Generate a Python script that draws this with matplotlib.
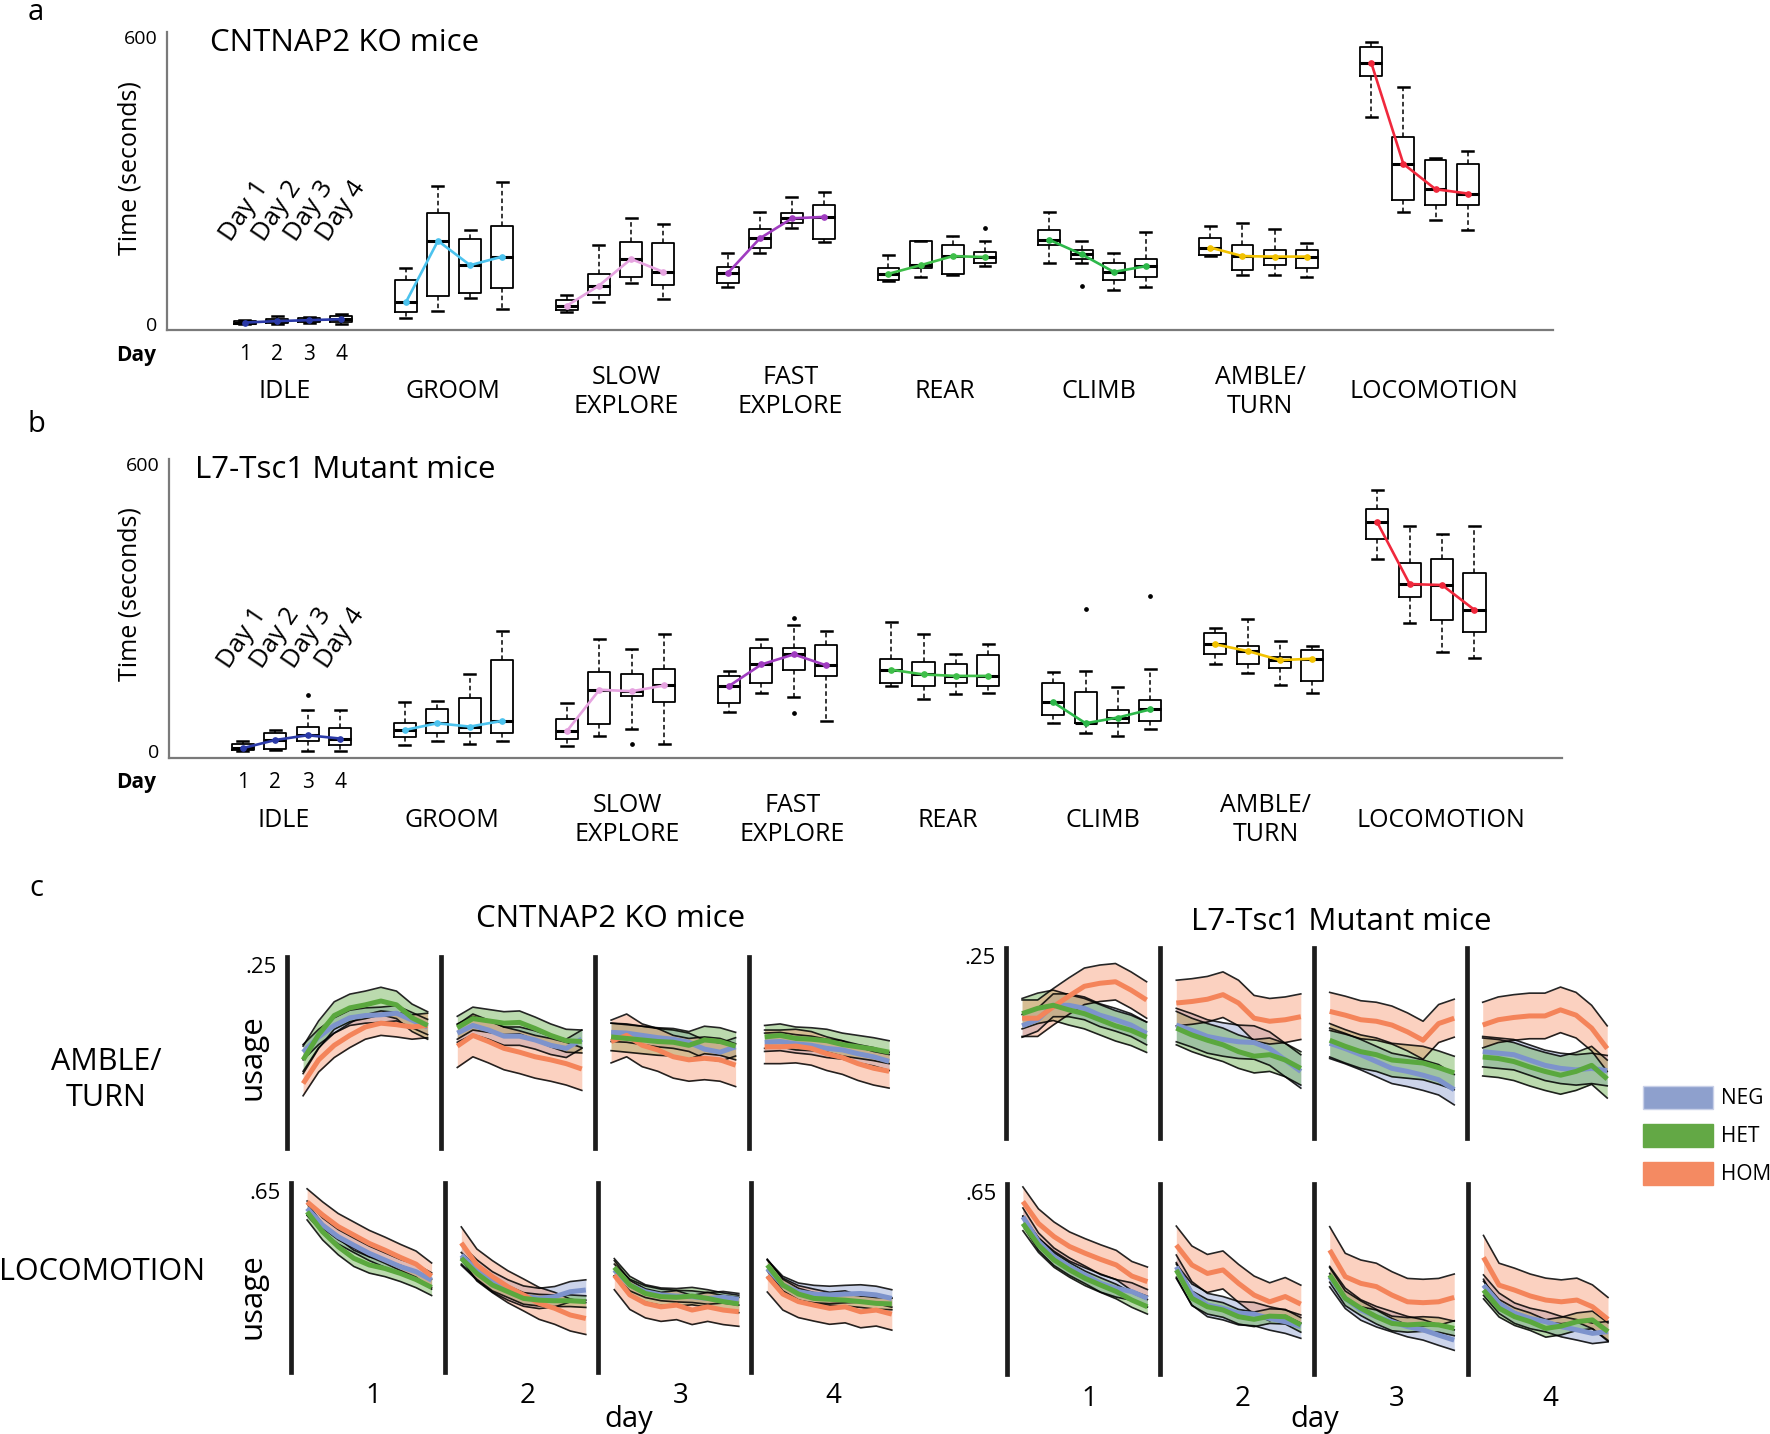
import numpy as np
import matplotlib
matplotlib.use('Agg')
import matplotlib.pyplot as plt
import matplotlib.transforms as mtransforms
from matplotlib.patches import Rectangle

plt.rcParams['font.family'] = ['Open Sans', 'DejaVu Sans']

# ------------------------------------------------------------------ DATA
BEHAVIORS = ['IDLE', 'GROOM', 'SLOW\nEXPLORE', 'FAST\nEXPLORE', 'REAR', 'CLIMB',
             'AMBLE/\nTURN', 'LOCOMOTION']
DAY_TICKS = ['1', '2', '3', '4']
DAY_NAMES = ['Day 1', 'Day 2', 'Day 3', 'Day 4']
LINE_COLORS = ['#2b3aa8', '#4cc3ee', '#e6a3e0', '#a03cc0', '#3fbf4a', '#2db84a',
               '#f2c200', '#f0283c']

# panel a : CNTNAP2 KO mice (seconds), rows = behaviours, cols = days 1-4
A_MED = [[3, 6, 8, 10], [45, 174, 123, 141], [38, 80, 136, 109], [106, 179, 221, 224],
         [105, 123, 142, 140], [176, 146, 109, 121], [160, 142, 141, 141], [547, 335, 282, 273]]
A_Q1 = [[0, 2, 4, 4], [26, 59, 64, 75], [30, 60, 98, 82], [85, 160, 212, 177],
        [92, 117, 105, 127], [165, 137, 92, 99], [144, 113, 123, 117], [518, 259, 249, 249]]
A_Q3 = [[6, 10, 12, 16], [91, 232, 177, 205], [50, 105, 171, 170], [120, 198, 233, 248],
        [117, 174, 165, 151], [197, 155, 127, 137], [179, 165, 155, 155], [580, 391, 343, 335]]
A_LO = [[0, 0, 2, 1], [13, 28, 54, 31], [25, 45, 86, 52], [77, 148, 200, 172],
        [89, 99, 103, 122], [127, 127, 71, 78], [143, 103, 103, 99], [434, 235, 218, 197]]
A_HI = [[8, 16, 15, 20], [117, 289, 197, 298], [60, 165, 221, 209], [148, 234, 266, 277],
        [144, 174, 184, 174], [235, 174, 148, 193], [204, 211, 198, 170], [590, 495, 347, 363]]
A_OUT = [(4, 3, 200), (5, 1, 80)]

# panel b : L7-Tsc1 mutant mice
B_MED = [[6, 23, 33, 26], [44, 58, 51, 63], [42, 128, 125, 137], [136, 181, 202, 179],
         [170, 160, 157, 157], [102, 58, 70, 87], [223, 209, 190, 193], [478, 349, 347, 295]]
B_Q1 = [[3, 4, 21, 12], [30, 38, 38, 38], [26, 56, 116, 102], [100, 143, 170, 156],
        [143, 136, 143, 136], [75, 58, 58, 63], [202, 181, 174, 146], [443, 323, 274, 248]]
B_Q3 = [[14, 38, 51, 49], [58, 87, 110, 190], [66, 165, 162, 172], [157, 216, 216, 221],
        [193, 186, 181, 200], [142, 123, 86, 107], [246, 220, 197, 211], [506, 393, 402, 373]]
B_LO = [[0, 3, 0, 0], [12, 21, 14, 21], [10, 31, 45, 14], [82, 121, 112, 63],
        [136, 108, 119, 122], [59, 38, 31, 45], [181, 164, 139, 121], [402, 267, 206, 195]]
B_HI = [[20, 44, 86, 86], [102, 105, 162, 251], [101, 234, 214, 244], [167, 234, 263, 251],
        [270, 244, 202, 223], [165, 167, 133, 172], [258, 275, 230, 220], [546, 471, 453, 470]]
B_OUT = [(0, 2, 117), (3, 2, 278), (3, 2, 79), (5, 1, 296), (5, 3, 324), (2, 2, 14)]

# panel c : usage time courses, 9 samples across each session, days 1-4
GENOTYPES = ['NEG', 'HET', 'HOM']
CNT_AMBLE_NEG = [[0.125, 0.145, 0.160, 0.170, 0.173, 0.174, 0.176, 0.167, 0.158],
                 [0.150, 0.160, 0.154, 0.146, 0.146, 0.141, 0.134, 0.130, 0.142],
                 [0.151, 0.150, 0.147, 0.144, 0.142, 0.138, 0.129, 0.125, 0.132],
                 [0.138, 0.139, 0.136, 0.134, 0.130, 0.128, 0.123, 0.119, 0.113]]
CNT_AMBLE_HET = [[0.115, 0.148, 0.173, 0.183, 0.187, 0.192, 0.187, 0.170, 0.160],
                 [0.157, 0.169, 0.166, 0.163, 0.164, 0.156, 0.147, 0.140, 0.139],
                 [0.145, 0.143, 0.141, 0.139, 0.138, 0.134, 0.141, 0.139, 0.133],
                 [0.145, 0.147, 0.143, 0.142, 0.140, 0.135, 0.132, 0.129, 0.125]]
CNT_AMBLE_HOM = [[0.084, 0.115, 0.134, 0.147, 0.158, 0.163, 0.161, 0.158, 0.160],
                 [0.133, 0.147, 0.139, 0.130, 0.125, 0.119, 0.115, 0.110, 0.103],
                 [0.139, 0.147, 0.134, 0.128, 0.119, 0.115, 0.117, 0.115, 0.108],
                 [0.132, 0.132, 0.133, 0.130, 0.123, 0.118, 0.110, 0.104, 0.100]]
CNT_AMBLE_SEM_NEG = [0.010, 0.012, 0.012, 0.012]
CNT_AMBLE_SEM_HET = [0.018, 0.015, 0.018, 0.015]
CNT_AMBLE_SEM_HOM = [0.016, 0.028, 0.028, 0.022]

CNT_LOCO_NEG = [[0.562, 0.504, 0.464, 0.435, 0.407, 0.384, 0.361, 0.344, 0.315],
                [0.401, 0.350, 0.309, 0.281, 0.260, 0.252, 0.258, 0.275, 0.281],
                [0.350, 0.298, 0.275, 0.264, 0.260, 0.258, 0.252, 0.256, 0.249],
                [0.355, 0.298, 0.275, 0.267, 0.264, 0.267, 0.269, 0.264, 0.252]]
CNT_LOCO_HET = [[0.550, 0.481, 0.430, 0.390, 0.367, 0.355, 0.338, 0.317, 0.290],
                [0.390, 0.338, 0.298, 0.275, 0.252, 0.246, 0.244, 0.244, 0.241],
                [0.359, 0.298, 0.269, 0.258, 0.256, 0.260, 0.252, 0.241, 0.233],
                [0.367, 0.298, 0.267, 0.252, 0.249, 0.246, 0.241, 0.235, 0.233]]
CNT_LOCO_HOM = [[0.584, 0.539, 0.499, 0.470, 0.441, 0.418, 0.393, 0.370, 0.329],
                [0.443, 0.367, 0.327, 0.292, 0.264, 0.235, 0.218, 0.195, 0.183],
                [0.332, 0.264, 0.235, 0.223, 0.229, 0.212, 0.223, 0.212, 0.206],
                [0.329, 0.267, 0.241, 0.229, 0.218, 0.223, 0.206, 0.212, 0.198]]
CNT_LOCO_SEM_NEG = [0.025, 0.035, 0.020, 0.030]
CNT_LOCO_SEM_HET = [0.028, 0.020, 0.030, 0.020]
CNT_LOCO_SEM_HOM = [0.045, 0.055, 0.050, 0.055]

L7_AMBLE_NEG = [[0.148, 0.156, 0.175, 0.175, 0.171, 0.162, 0.156, 0.149, 0.138],
                [0.149, 0.142, 0.134, 0.130, 0.127, 0.126, 0.118, 0.103, 0.088],
                [0.125, 0.118, 0.110, 0.101, 0.092, 0.088, 0.083, 0.077, 0.064],
                [0.114, 0.112, 0.110, 0.103, 0.096, 0.092, 0.090, 0.092, 0.089]]
L7_AMBLE_HET = [[0.164, 0.171, 0.175, 0.169, 0.164, 0.156, 0.148, 0.142, 0.133],
                [0.145, 0.136, 0.129, 0.123, 0.114, 0.108, 0.110, 0.103, 0.092],
                [0.129, 0.121, 0.114, 0.110, 0.103, 0.101, 0.099, 0.093, 0.086],
                [0.107, 0.105, 0.101, 0.094, 0.088, 0.083, 0.088, 0.096, 0.078]]
L7_AMBLE_HOM = [[0.158, 0.158, 0.173, 0.187, 0.200, 0.204, 0.206, 0.195, 0.182],
                [0.178, 0.180, 0.183, 0.189, 0.178, 0.158, 0.154, 0.156, 0.160],
                [0.167, 0.162, 0.156, 0.154, 0.149, 0.140, 0.129, 0.151, 0.158],
                [0.149, 0.156, 0.159, 0.161, 0.161, 0.169, 0.162, 0.145, 0.118]]
L7_AMBLE_SEM_NEG = [0.015, 0.022, 0.020, 0.020]
L7_AMBLE_SEM_HET = [0.020, 0.022, 0.022, 0.025]
L7_AMBLE_SEM_HOM = [0.024, 0.030, 0.025, 0.030]

L7_LOCO_NEG = [[0.538, 0.453, 0.401, 0.367, 0.339, 0.310, 0.293, 0.282, 0.259],
               [0.367, 0.276, 0.236, 0.225, 0.208, 0.205, 0.190, 0.179, 0.162],
               [0.333, 0.259, 0.219, 0.196, 0.179, 0.162, 0.151, 0.133, 0.116],
               [0.304, 0.242, 0.208, 0.190, 0.179, 0.162, 0.151, 0.139, 0.145]]
L7_LOCO_HET = [[0.515, 0.441, 0.390, 0.356, 0.327, 0.304, 0.282, 0.253, 0.230],
               [0.356, 0.259, 0.230, 0.219, 0.196, 0.187, 0.198, 0.196, 0.168],
               [0.339, 0.259, 0.225, 0.196, 0.173, 0.168, 0.171, 0.168, 0.156],
               [0.287, 0.225, 0.196, 0.179, 0.156, 0.164, 0.179, 0.185, 0.145]]
L7_LOCO_HOM = [[0.590, 0.515, 0.470, 0.436, 0.413, 0.392, 0.373, 0.335, 0.316],
               [0.441, 0.373, 0.344, 0.356, 0.310, 0.270, 0.247, 0.265, 0.239],
               [0.424, 0.333, 0.310, 0.299, 0.270, 0.247, 0.244, 0.247, 0.262],
               [0.399, 0.304, 0.287, 0.267, 0.253, 0.247, 0.253, 0.230, 0.187]]
L7_LOCO_SEM_NEG = [0.030, 0.040, 0.035, 0.035]
L7_LOCO_SEM_HET = [0.025, 0.025, 0.025, 0.030]
L7_LOCO_SEM_HOM = [0.050, 0.065, 0.080, 0.075]

# ------------------------------------------------------------------ STYLE / LAYOUT
W, H = 1770, 1434
fig = plt.figure(figsize=(W / 100, H / 100), dpi=100)

MEAN_COLORS = {'NEG': '#7d93cc', 'HET': '#5aa83e', 'HOM': '#f4845a'}
FILL_COLORS = {'NEG': '#8ea0d2', 'HET': '#6aae4c', 'HOM': '#f79a74'}
LEGEND_COLORS = {'NEG': '#8ea0cd', 'HET': '#63a845', 'HOM': '#f48a62'}


def fx(x):
    return x / W


def fy(y):
    return 1 - y / H


def rect(l, t, r, b):
    return [l / W, 1 - b / H, (r - l) / W, (b - t) / H]


LABEL_SHIFT = [-0.25, -0.05, 0.35, 0.45, 0.25, 0.05, 0.05, 0.45]


def box_panel(box, xlim, ylim, med, q1, q3, lo, hi, outs, title, title_xy,
              ylab_xy, day_y, cat_y):
    ax = fig.add_axes(rect(*box))
    stats, pos = [], []
    for g in range(len(BEHAVIORS)):
        for d in range(4):
            fl = [v for (gg, dd, v) in outs if gg == g and dd == d]
            stats.append(dict(med=med[g][d], q1=q1[g][d], q3=q3[g][d],
                              whislo=lo[g][d], whishi=hi[g][d], fliers=fl))
            pos.append(g * 5 + d)
    ax.bxp(stats, positions=pos, widths=0.68, capwidths=0.34, manage_ticks=False,
           boxprops=dict(color='k', lw=1.3),
           whiskerprops=dict(color='k', lw=1.1, ls=(0, (3, 2))),
           capprops=dict(color='k', lw=1.8),
           medianprops=dict(color='k', lw=2.2),
           flierprops=dict(marker='o', markersize=2.4, markerfacecolor='k',
                           markeredgecolor='k'))
    for g in range(len(BEHAVIORS)):
        xs = [g * 5 + d for d in range(4)]
        ax.plot(xs, med[g], color=LINE_COLORS[g], lw=1.9, marker='o', ms=3.8,
                zorder=6)
    ax.set_xlim(*xlim)
    ax.set_ylim(*ylim)
    for s in ['top', 'right']:
        ax.spines[s].set_visible(False)
    for s in ['left', 'bottom']:
        ax.spines[s].set_color('#7a7a7a')
        ax.spines[s].set_linewidth(1.6)
    ax.set_yticks([0, 600])
    ax.set_yticklabels(['0', '600'], fontsize=14)
    ax.set_xticks([0, 1, 2, 3])
    ax.set_xticklabels(DAY_TICKS, fontsize=15)
    ax.tick_params(axis='y', length=0, pad=7)
    ax.tick_params(axis='x', length=0, pad=10)
    for d in range(4):
        ax.text(d, 236, DAY_NAMES[d], rotation=56, ha='center', va='center',
                fontsize=18.5)
    tr = mtransforms.blended_transform_factory(ax.transData, fig.transFigure)
    for g, name in enumerate(BEHAVIORS):
        ax.text(g * 5 + 1.5 + LABEL_SHIFT[g], fy(cat_y), name, transform=tr,
                ha='center', va='center', fontsize=18, linespacing=1.25)
    fig.text(fx(title_xy[0]), fy(title_xy[1]), title, ha='left', va='center',
             fontsize=22.5)
    fig.text(fx(ylab_xy[0]), fy(ylab_xy[1]), 'Time (seconds)', rotation=90,
             ha='center', va='center', fontsize=18)
    fig.text(fx(136), fy(day_y), 'Day', ha='center', va='center', fontsize=15,
             fontweight='bold')
    return ax


# panel a
box_panel((167, 32, 1553, 330), (-2.42, 40.65), (-12.6, 611),
          A_MED, A_Q1, A_Q3, A_LO, A_HI, A_OUT, 'CNTNAP2 KO mice', (210, 43),
          (130, 168), 356, 392)
# panel b
box_panel((169, 459, 1562, 757.7), (-2.28, 40.70), (-14, 610.5),
          B_MED, B_Q1, B_Q3, B_LO, B_HI, B_OUT, 'L7-Tsc1 Mutant mice', (195, 470),
          (130, 594), 783, 820)

# panel c
TX = np.linspace(0.0, 1.0, 9)


def ts_row(lefts, top, bot, ymax, series, sems, tick_label, day_labels):
    for d, left in enumerate(lefts):
        ax = fig.add_axes(rect(left, top, left + 150, bot))
        ax.set_xlim(-0.1285, 1.0763)
        ax.set_ylim(0, ymax)
        for gt in GENOTYPES:
            m = np.array(series[gt][d])
            s = sems[gt][d]
            ax.fill_between(TX, m - s, m + s, color=FILL_COLORS[gt], alpha=0.45,
                            lw=0, zorder=1)
        for gt in GENOTYPES:
            m = np.array(series[gt][d])
            s = sems[gt][d]
            ax.plot(TX, m + s, color='k', lw=1.2, alpha=0.85, zorder=2)
            ax.plot(TX, m - s, color='k', lw=1.2, alpha=0.85, zorder=2)
        for gt in ['NEG', 'HOM', 'HET']:
            ax.plot(TX, series[gt][d], color=MEAN_COLORS[gt], lw=3.6, zorder=3,
                    solid_capstyle='butt')
        for s in ['top', 'right', 'bottom']:
            ax.spines[s].set_visible(False)
        ax.spines['left'].set_linewidth(3.4)
        ax.spines['left'].set_color('#1c1c1c')
        ax.set_xticks([])
        ax.set_yticks([])
        ax.patch.set_alpha(0)
        if d == 0:
            ax.text(-0.07, 1.0, tick_label, transform=ax.transAxes, ha='right',
                    va='top', fontsize=16)
        if day_labels:
            ax.text(0.55, -0.13, DAY_TICKS[d], transform=ax.transAxes,
                    ha='center', va='center', fontsize=20)


CNT_AMBLE = {'NEG': CNT_AMBLE_NEG, 'HET': CNT_AMBLE_HET, 'HOM': CNT_AMBLE_HOM}
CNT_AMBLE_SEM = {'NEG': CNT_AMBLE_SEM_NEG, 'HET': CNT_AMBLE_SEM_HET, 'HOM': CNT_AMBLE_SEM_HOM}
CNT_LOCO = {'NEG': CNT_LOCO_NEG, 'HET': CNT_LOCO_HET, 'HOM': CNT_LOCO_HOM}
CNT_LOCO_SEM = {'NEG': CNT_LOCO_SEM_NEG, 'HET': CNT_LOCO_SEM_HET, 'HOM': CNT_LOCO_SEM_HOM}
L7_AMBLE = {'NEG': L7_AMBLE_NEG, 'HET': L7_AMBLE_HET, 'HOM': L7_AMBLE_HOM}
L7_AMBLE_SEM = {'NEG': L7_AMBLE_SEM_NEG, 'HET': L7_AMBLE_SEM_HET, 'HOM': L7_AMBLE_SEM_HOM}
L7_LOCO = {'NEG': L7_LOCO_NEG, 'HET': L7_LOCO_HET, 'HOM': L7_LOCO_HOM}
L7_LOCO_SEM = {'NEG': L7_LOCO_SEM_NEG, 'HET': L7_LOCO_SEM_HET, 'HOM': L7_LOCO_SEM_HOM}

ts_row([287.1, 441.3, 595.1, 748.6], 956.7, 1147.7, 0.25, CNT_AMBLE, CNT_AMBLE_SEM, '.25', False)
ts_row([291.1, 445.3, 598.3, 751.3], 1182.7, 1371.7, 0.65, CNT_LOCO, CNT_LOCO_SEM, '.65', True)
ts_row([1006.1, 1160.3, 1313.7, 1466.7], 948.3, 1138.3, 0.25, L7_AMBLE, L7_AMBLE_SEM, '.25', False)
ts_row([1006.9, 1160.3, 1313.7, 1467.5], 1184, 1374, 0.65, L7_LOCO, L7_LOCO_SEM, '.65', True)

fig.text(fx(611), fy(919), 'CNTNAP2 KO mice', ha='center', va='center', fontsize=22.5)
fig.text(fx(1341), fy(922), 'L7-Tsc1 Mutant mice', ha='center', va='center', fontsize=22.5)
fig.text(fx(106), fy(1080), 'AMBLE/\nTURN', ha='center', va='center', fontsize=22,
         linespacing=1.25)
fig.text(fx(102), fy(1272), 'LOCOMOTION', ha='center', va='center', fontsize=22)
fig.text(fx(253), fy(1057), 'usage', rotation=90, ha='center', va='center', fontsize=22.5)
fig.text(fx(253), fy(1296), 'usage', rotation=90, ha='center', va='center', fontsize=22.5)
fig.text(fx(629), fy(1419), 'day', ha='center', va='center', fontsize=21)
fig.text(fx(1315), fy(1419), 'day', ha='center', va='center', fontsize=21)

# legend
for gt, ytop in zip(GENOTYPES, [1086, 1124, 1162]):
    fig.patches.append(Rectangle((fx(1643), fy(ytop + 23)), 70 / W, 23 / H,
                                 transform=fig.transFigure,
                                 facecolor=LEGEND_COLORS[gt],
                                 edgecolor='#c8d0e8' if gt == 'NEG' else LEGEND_COLORS[gt],
                                 lw=1))
    fig.text(fx(1721), fy(ytop + 12), gt, ha='left', va='center', fontsize=15)

# panel letters
fig.text(fx(36), fy(12), 'a', ha='center', va='center', fontsize=21)
fig.text(fx(36), fy(425), 'b', ha='center', va='center', fontsize=21)
fig.text(fx(36), fy(889), 'c', ha='center', va='center', fontsize=21)

fig.savefig('out.png', dpi=100)
